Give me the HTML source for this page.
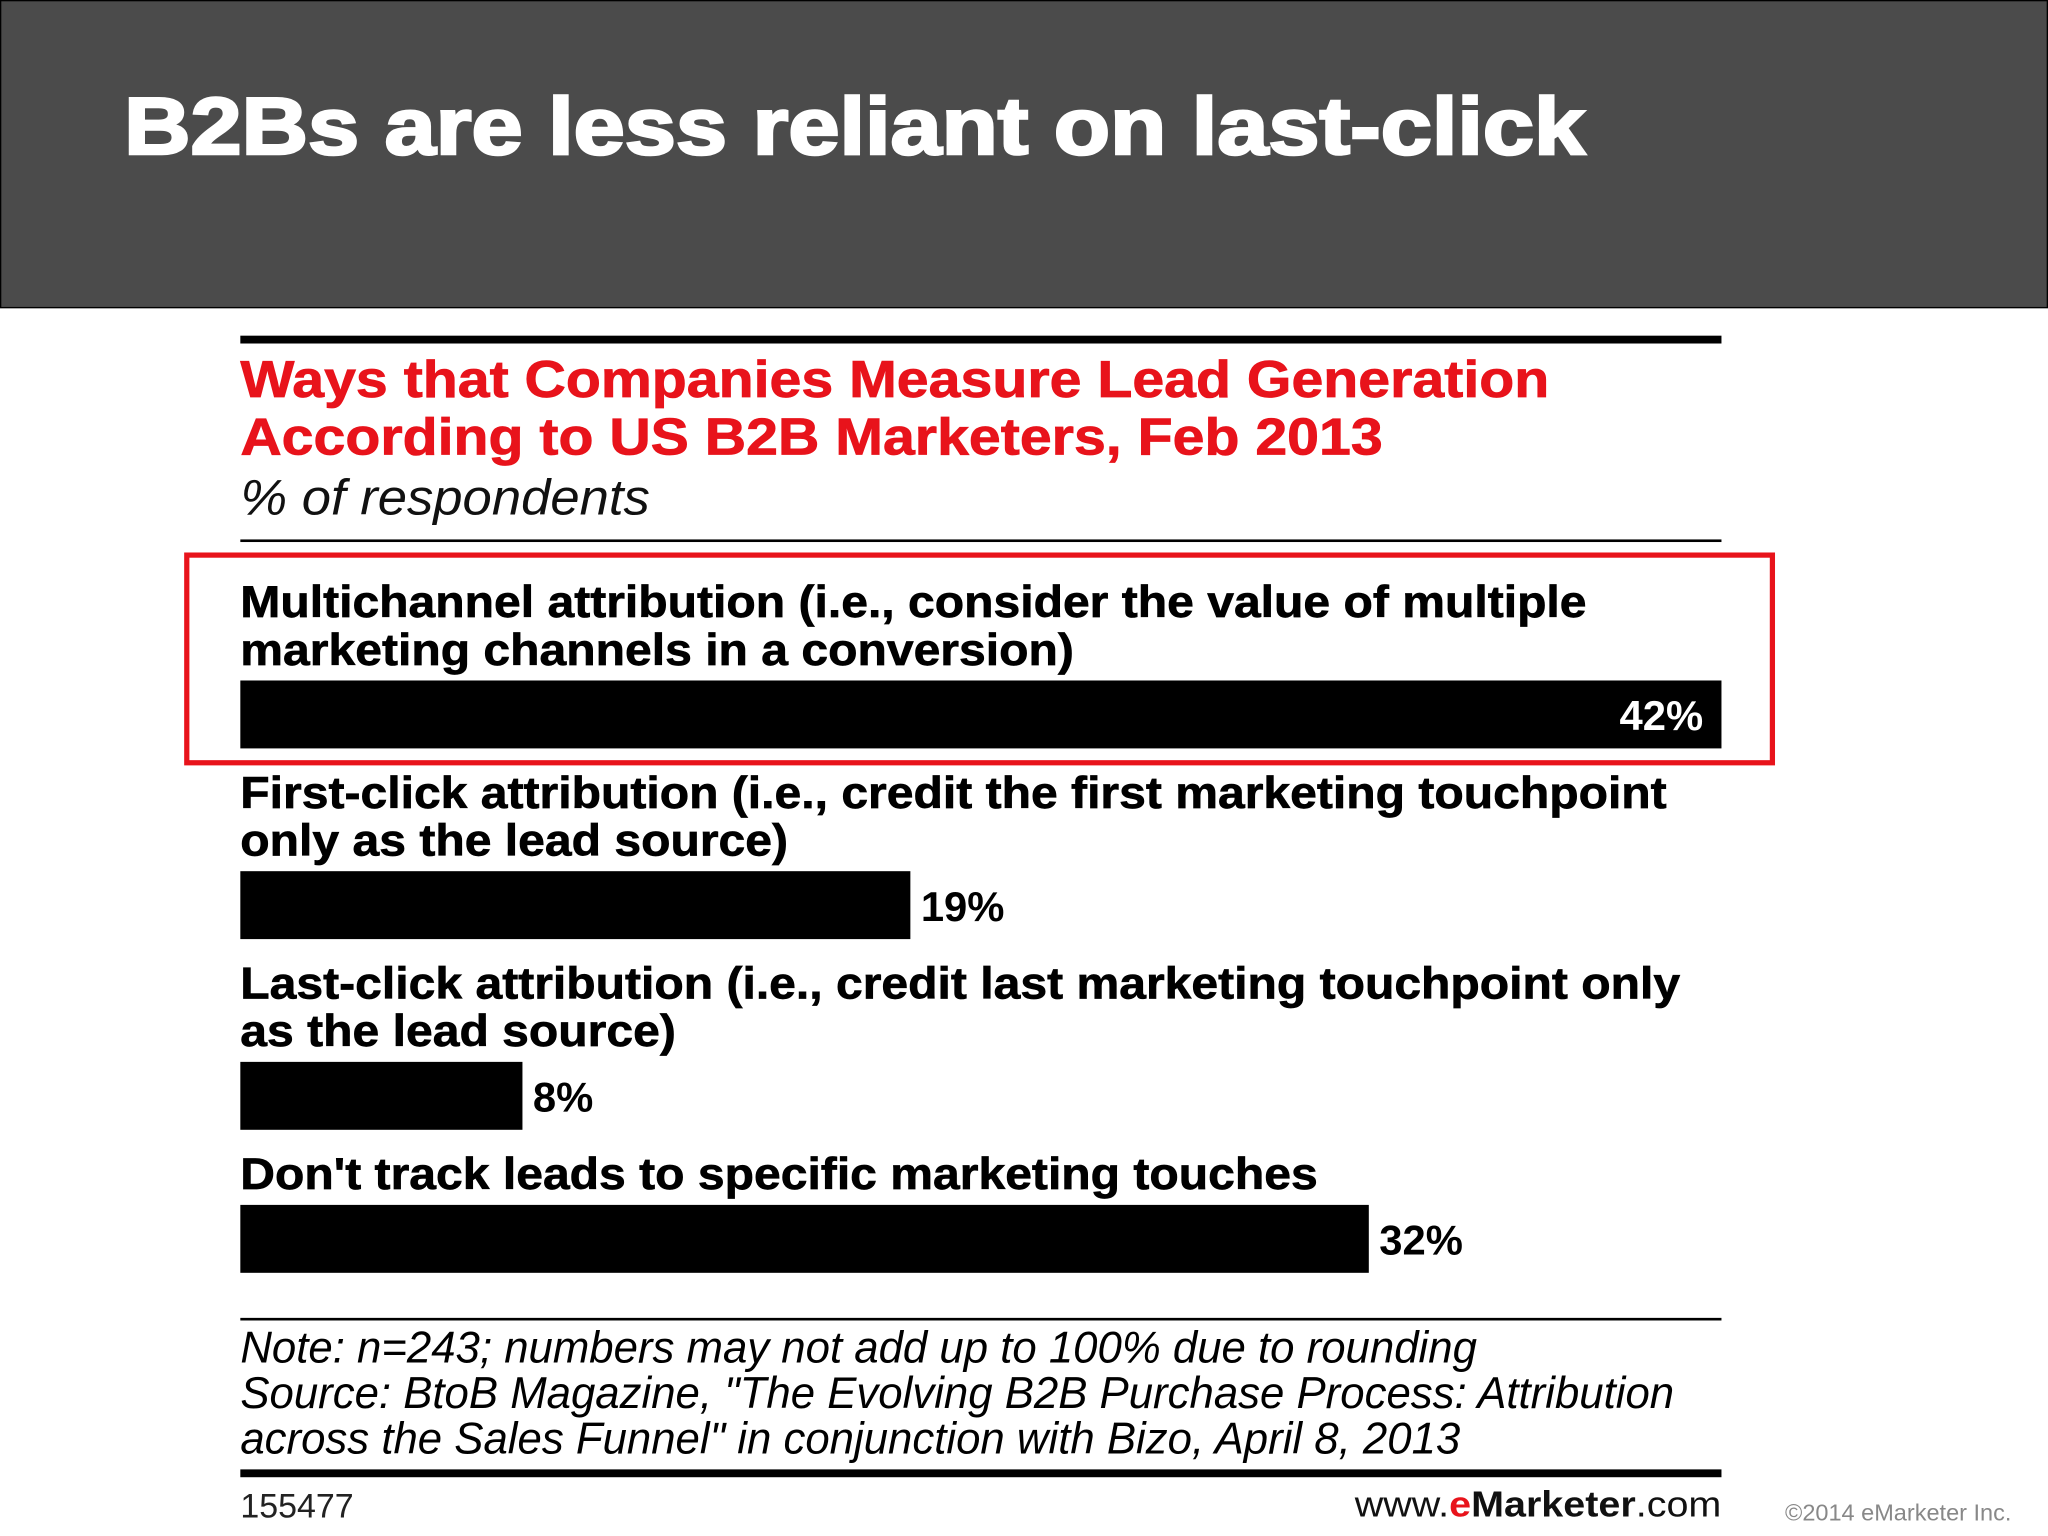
<!DOCTYPE html>
<html><head><meta charset="utf-8"><style>
html,body{margin:0;padding:0;background:#fff}
#wrap{position:relative;width:1568px;height:1176px;transform:scale(1.30612);transform-origin:0 0;font-family:"Liberation Sans",sans-serif;overflow:hidden}
.a{position:absolute;white-space:nowrap}
.nt{font-style:italic;font-size:34px;line-height:35px;transform:scaleX(0.985);transform-origin:0 0;left:184px}
</style></head><body>
<div id="wrap">
<div class="a" style="left:0;top:0;width:1566px;height:234px;background:#4b4b4b;border:1px solid #000"></div>
<div class="a" style="left:95px;top:62px;font-size:62px;font-weight:900;color:#fff;-webkit-text-stroke:2px #fff;transform:scaleX(1.135);transform-origin:0 0">B2Bs are less reliant on last-click</div>
<div class="a" style="left:184px;top:257px;width:1134px;height:6px;background:#000"></div>
<div class="a" style="left:184px;top:269px;font-size:40px;line-height:44px;font-weight:bold;color:#e8131b;-webkit-text-stroke:0.6px #e8131b;transform:scaleX(1.096);transform-origin:0 0">Ways that Companies Measure Lead Generation<br>According to US B2B Marketers, Feb 2013</div>
<div class="a" style="left:184px;top:361px;font-size:38px;font-style:italic;color:#111;transform:scaleX(1.06);transform-origin:0 0">% of respondents</div>
<div class="a" style="left:184px;top:413px;width:1134px;height:2px;background:#000"></div>
<div class="a" style="left:141px;top:423px;width:1210px;height:155px;border:4px solid #e8131b"></div>
<svg class="a" id="chart" style="left:0;top:0" width="1568" height="1176"></svg>
<div class="a" style="left:184px;top:1009px;width:1134px;height:2px;background:#000"></div>
<div class="a nt" style="top:1015px">Note: n=243; numbers may not add up to 100% due to rounding<br>Source: BtoB Magazine, "The Evolving B2B Purchase Process: Attribution<br>across the Sales Funnel" in conjunction with Bizo, April 8, 2013</div>
<div class="a" style="left:184px;top:1125px;width:1134px;height:6px;background:#000"></div>
<div class="a" style="left:184px;top:1138px;font-size:26px;color:#222">155477</div>
<div class="a" style="right:250px;top:1136px;font-size:28px;color:#111;transform:scaleX(1.08);transform-origin:100% 0">www.<b style="color:#e8131b">e</b><b>Marketer</b>.com</div>
<div class="a" style="right:28px;top:1148px;font-size:18px;color:#888">©2014 eMarketer Inc.</div>
</div>
<script>
const categories=["Multichannel attribution (i.e., consider the value of multiple|marketing channels in a conversion)","First-click attribution (i.e., credit the first marketing touchpoint|only as the lead source)","Last-click attribution (i.e., credit last marketing touchpoint only|as the lead source)","Don't track leads to specific marketing touches"];
const values=[42,19,8,32];
const svg=document.getElementById('chart');
const NS='http://www.w3.org/2000/svg';
const x0=184, pxPer=1134/42;
function xs(v){return v*pxPer;}
let barTop=521;
categories.forEach((c,i)=>{
  const lines=c.split('|');
  if(i>0) barTop=barTop+lines.length*36.5+20;
  lines.forEach((l,j)=>{
    const t=document.createElementNS(NS,'text');
    t.setAttribute('x',x0);
    t.setAttribute('y',barTop-12-(lines.length-1-j)*36.5);
    t.setAttribute('font-size','34');t.setAttribute('font-weight','bold');
    t.setAttribute('font-family','Liberation Sans, sans-serif');
    t.setAttribute('stroke','#000');t.setAttribute('stroke-width','0.5');
    t.textContent=l;
    
    
    svg.appendChild(t);
    const w=t.getComputedTextLength();
    t.setAttribute('textLength',w*1.083);
    t.setAttribute('lengthAdjust','spacingAndGlyphs');
  });
  const r=document.createElementNS(NS,'rect');
  r.setAttribute('x',x0);r.setAttribute('y',barTop);r.setAttribute('width',xs(values[i]));r.setAttribute('height',52);r.setAttribute('fill','#000');
  
  
  svg.appendChild(r);
  const vt=document.createElementNS(NS,'text');
  const inside=values[i]>=40;
  vt.setAttribute('x',inside?x0+xs(values[i])-14:x0+xs(values[i])+8);
  vt.setAttribute('y',barTop+38);
  vt.setAttribute('text-anchor',inside?'end':'start');
  vt.setAttribute('fill',inside?'#fff':'#000');
  vt.setAttribute('font-size','32');vt.setAttribute('font-weight','bold');
  vt.setAttribute('font-family','Liberation Sans, sans-serif');
  vt.textContent=values[i]+'%';
  
  
  svg.appendChild(vt);
  barTop=barTop+53;
});
</script>
</body></html>
